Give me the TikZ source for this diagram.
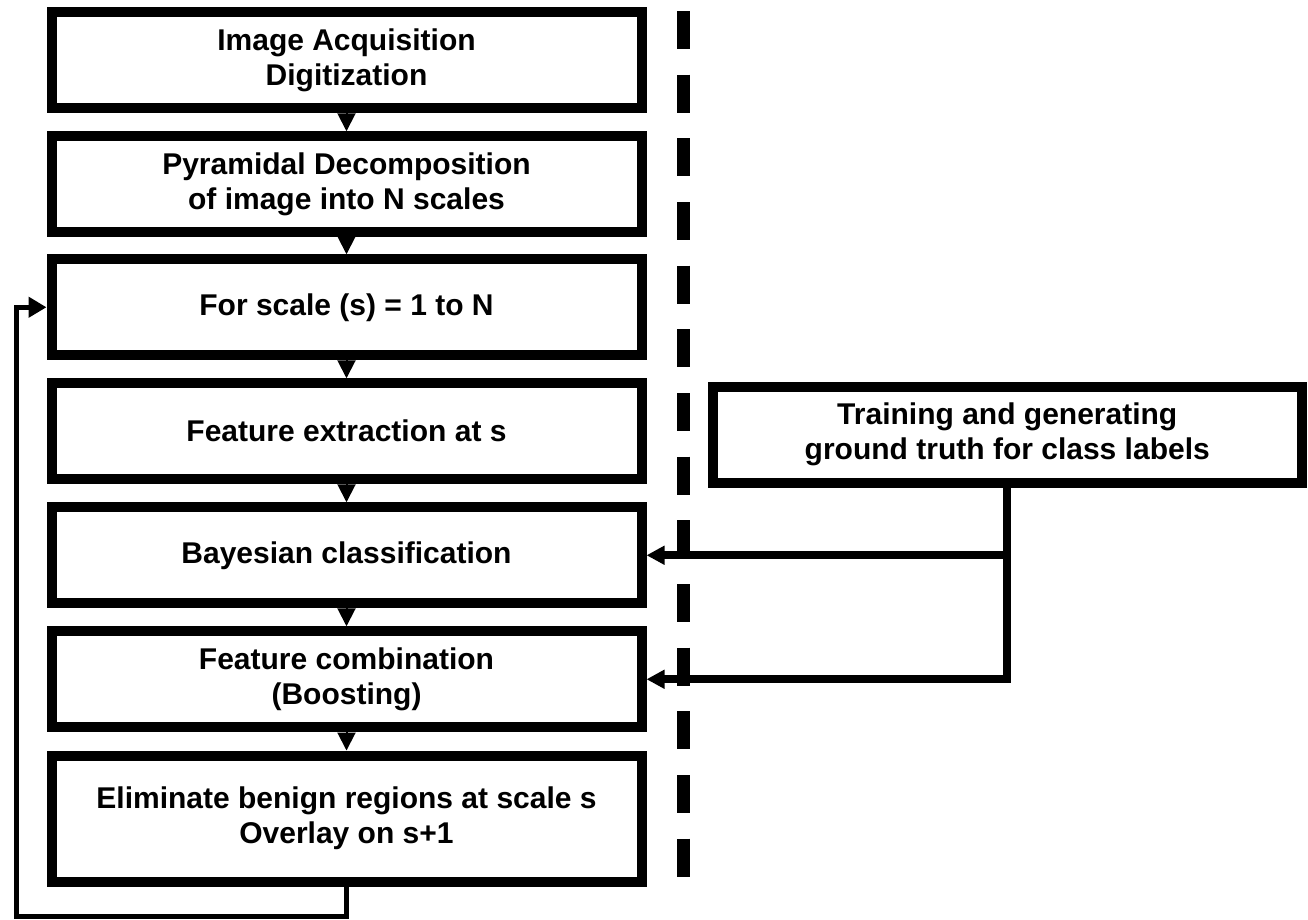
\documentclass[tikz,border=0pt]{standalone}
\usepackage{fontspec}
\setmainfont{Liberation Sans}
\usetikzlibrary{arrows.meta}
\begin{document}
\begin{tikzpicture}[x=1pt,y=-1pt,
  box/.style={draw=black, line width=10pt, outer sep=5pt, minimum width=590pt, minimum height=96pt,
    align=center, inner sep=0pt, font=\bfseries\fontsize{30}{35}\selectfont},
  flow/.style={line width=2pt, -{Triangle[length=18pt,width=18pt]}},
  feed/.style={line width=8pt, line join=miter, -{Triangle[length=18pt,width=18pt]}},
  loopline/.style={line width=5pt, line join=miter, -{Triangle[length=18pt,width=20pt]}},
  sepline/.style={line width=12.5pt, dash pattern=on 38pt off 25.67pt}]
\useasboundingbox (0,0) rectangle (1308,919);
\fill[white] (0,0) rectangle (1308,919);

\node[box] (b1) at (346.5,60.25) {Image Acquisition\\Digitization};
\node[box] (b2) at (346.5,184.25) {Pyramidal Decomposition\\of image into N scales};
\node[box] (b3) at (346.5,307.25) {For scale (s) = 1 to N};
\node[box] (b4) at (346.5,431.25) {Feature extraction at s};
\node[box] (b5) at (346.5,555.25) {Bayesian classification};
\node[box] (b6) at (346.5,679.25) {Feature combination\\(Boosting)};
\node[box, minimum height=126pt] (b7) at (346.5,818.5) {Eliminate benign regions at scale s\\Overlay on s+1};

\node[box, minimum width=588.5pt, minimum height=95.5pt] (tr) at (1007.25,434.75)
  {Training and generating\\ground truth for class labels};

\draw[flow] (b1) -- (b2);
\draw[flow] (b2) -- (b3);
\draw[flow] (b3) -- (b4);
\draw[flow] (b4) -- (b5);
\draw[flow] (b5) -- (b6);
\draw[flow] (b6) -- (b7);

\coordinate (j1) at (tr.south |- b5.east);
\draw[feed] (tr.south) |- (b6.east);
\draw[feed] (j1) -- (b5.east);

\coordinate (lc) at (16,916);
\draw[loopline] (b7.south) |- (lc) |- (b3.west);

\coordinate (d1) at (683.5,11);
\coordinate (d2) at (683.5,877);
\draw[sepline] (d1) -- (d2);
\end{tikzpicture}
\end{document}
